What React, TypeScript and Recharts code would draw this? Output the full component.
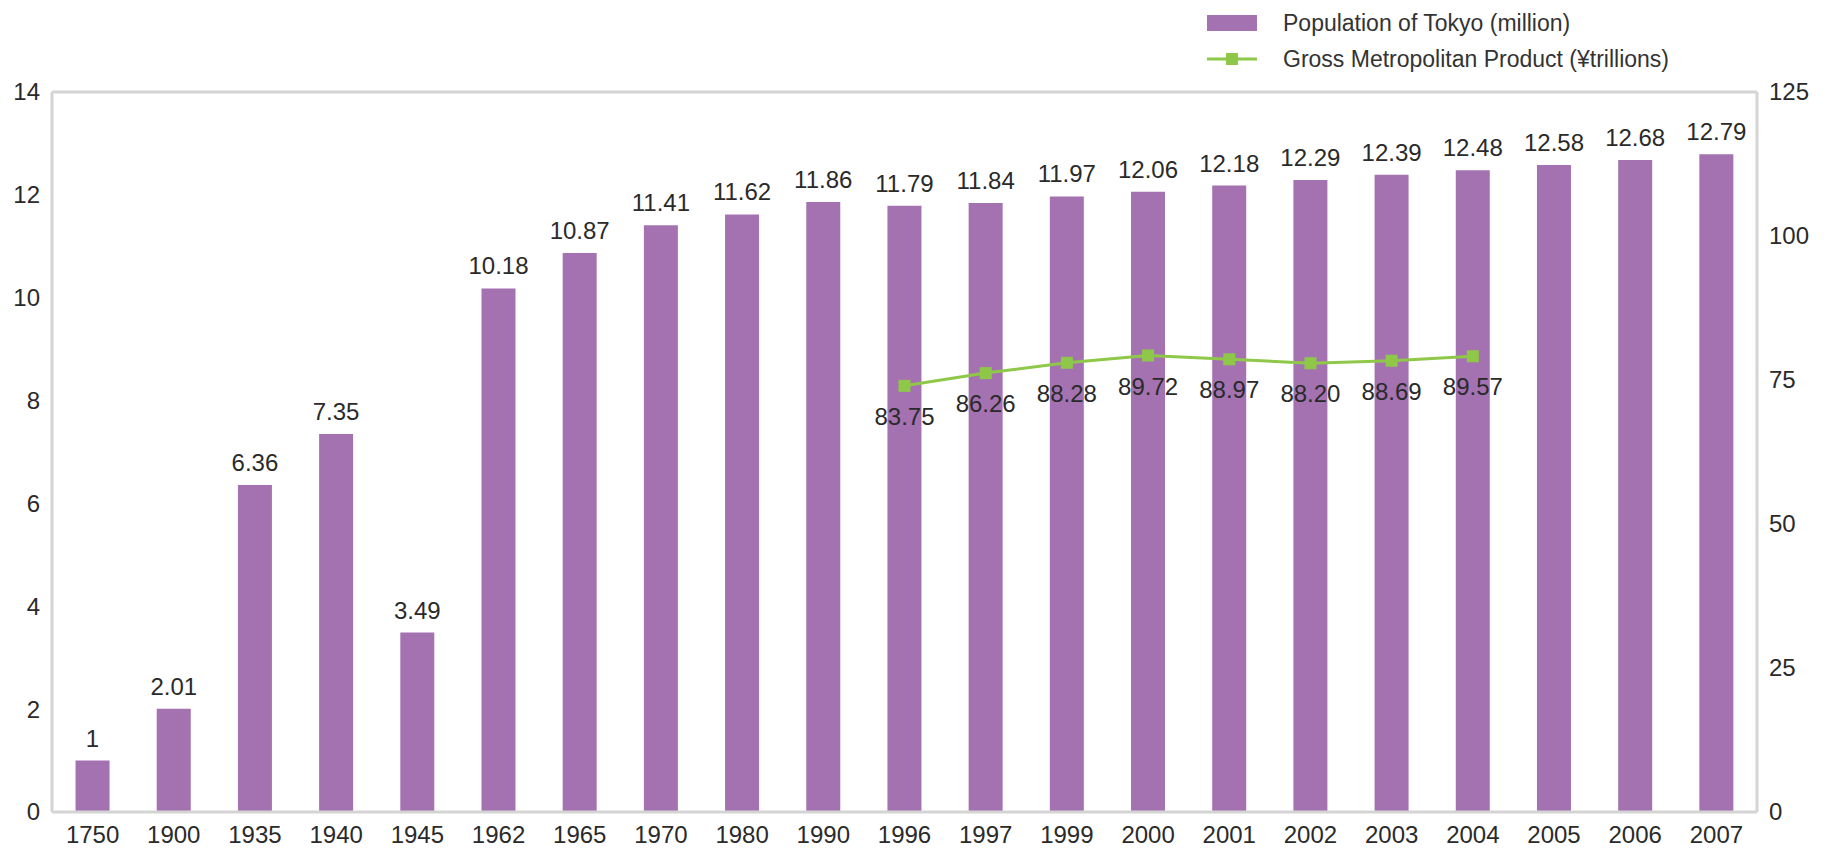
import React from "react";
import {
  ComposedChart,
  Bar,
  Line,
  XAxis,
  YAxis,
  LabelList,
  ReferenceLine,
} from "recharts";

const years = [
  "1750", "1900", "1935", "1940", "1945", "1962", "1965", "1970", "1980", "1990",
  "1996", "1997", "1999", "2000", "2001", "2002", "2003", "2004", "2005", "2006", "2007",
];
const population = [
  1, 2.01, 6.36, 7.35, 3.49, 10.18, 10.87, 11.41, 11.62, 11.86,
  11.79, 11.84, 11.97, 12.06, 12.18, 12.29, 12.39, 12.48, 12.58, 12.68, 12.79,
];
const gmp: (number | null)[] = [
  null, null, null, null, null, null, null, null, null, null,
  83.75, 86.26, 88.28, 89.72, 88.97, 88.2, 88.69, 89.57, null, null, null,
];
const leftTicks = [0, 2, 4, 6, 8, 10, 12, 14];
const rightTicks = [0, 25, 50, 75, 100, 125];

const data = years.map((year, i) => ({
  year,
  population: population[i],
  gmp: gmp[i],
}));

const PURPLE = "#a472b1";
const GREEN = "#8fc849";
const AXIS = "#d4d4d4";
const TEXT = "#2a2a2a";
const FONT = "'Liberation Sans', Arial, sans-serif";

const fmtPop = (v: number) => String(v);
const fmtGmp = (v: number) => (v == null ? "" : v.toFixed(2));

const SquareDot = (props: any) => {
  const { cx, cy, value } = props;
  if (value == null || cx == null || cy == null) return <g />;
  return <rect x={cx - 6} y={cy - 6} width={12} height={12} fill={GREEN} />;
};

const LeftTick = (props: any) => {
  const { x, y, payload } = props;
  return (
    <text x={x} y={y} dy="0.35em" textAnchor="end" fontSize={24} fill={TEXT} fontFamily={FONT}>
      {payload.value}
    </text>
  );
};

const RightTick = (props: any) => {
  const { x, y, payload } = props;
  return (
    <text x={x} y={y} dy="0.35em" textAnchor="start" fontSize={24} fill={TEXT} fontFamily={FONT}>
      {payload.value}
    </text>
  );
};

const LegendBox = () => (
  <div
    style={{
      position: "absolute",
      left: 1207,
      top: 5,
      fontFamily: FONT,
      fontSize: 23,
      color: "#333",
      lineHeight: "36px",
      whiteSpace: "nowrap",
    }}
  >
    <div style={{ display: "flex", alignItems: "center" }}>
      <span style={{ display: "inline-block", width: 50, height: 16, background: PURPLE, marginRight: 26 }} />
      Population of Tokyo (million)
    </div>
    <div style={{ display: "flex", alignItems: "center" }}>
      <svg width={50} height={16} style={{ marginRight: 26 }}>
        <line x1={0} y1={8} x2={50} y2={8} stroke={GREEN} strokeWidth={3} />
        <rect x={19} y={2} width={12} height={12} fill={GREEN} />
      </svg>
      Gross Metropolitan Product (¥trillions)
    </div>
  </div>
);

export default function App() {
  return (
    <div style={{ position: "absolute", left: 0, top: 0, width: 1827, height: 854, background: "#fff" }}>
      <ComposedChart
        width={1827}
        height={854}
        data={data}
        margin={{ top: 92, right: 0, bottom: 0, left: 0 }}
        barCategoryGap="29%"
        style={{ fontFamily: FONT }}
      >
        <XAxis
          dataKey="year"
          height={42}
          tickLine={false}
          axisLine={{ stroke: AXIS, strokeWidth: 3 }}
          tick={{ fontSize: 24, fill: TEXT }}
          tickMargin={8}
          interval={0}
        />
        <YAxis
          yAxisId="left"
          orientation="left"
          width={52}
          domain={[0, 14]}
          ticks={leftTicks}
          interval={0}
          tickLine={false}
          axisLine={{ stroke: AXIS, strokeWidth: 3 }}
          tick={<LeftTick />}
          tickMargin={6}
        />
        <YAxis
          yAxisId="right"
          orientation="right"
          type="number"
          width={70}
          domain={[0, 125]}
          allowDataOverflow
          ticks={rightTicks}
          interval={0}
          tickLine={false}
          axisLine={{ stroke: AXIS, strokeWidth: 3 }}
          tick={<RightTick />}
          tickMargin={6}
        />
        <YAxis yAxisId="gmp" orientation="right" hide width={0} domain={[0, 141.5]} />
        <ReferenceLine yAxisId="left" y={14} stroke={AXIS} strokeWidth={3} />
        <ReferenceLine yAxisId="right" y={125} stroke="none" />
        <Bar
          yAxisId="left"
          dataKey="population"
          name="Population of Tokyo (million)"
          fill={PURPLE}
          isAnimationActive={false}
        >
          <LabelList
            dataKey="population"
            position="top"
            offset={14}
            formatter={fmtPop as any}
            style={{ fontSize: 24, fill: TEXT, fontFamily: FONT }}
          />
        </Bar>
        <Line
          yAxisId="gmp"
          dataKey="gmp"
          name="Gross Metropolitan Product (¥trillions)"
          stroke={GREEN}
          strokeWidth={3}
          dot={<SquareDot />}
          activeDot={false}
          connectNulls={false}
          isAnimationActive={false}
        >
          <LabelList
            dataKey="gmp"
            position="bottom"
            offset={22}
            formatter={fmtGmp as any}
            style={{ fontSize: 24, fill: TEXT, fontFamily: FONT }}
          />
        </Line>
      </ComposedChart>
      <LegendBox />
    </div>
  );
}
